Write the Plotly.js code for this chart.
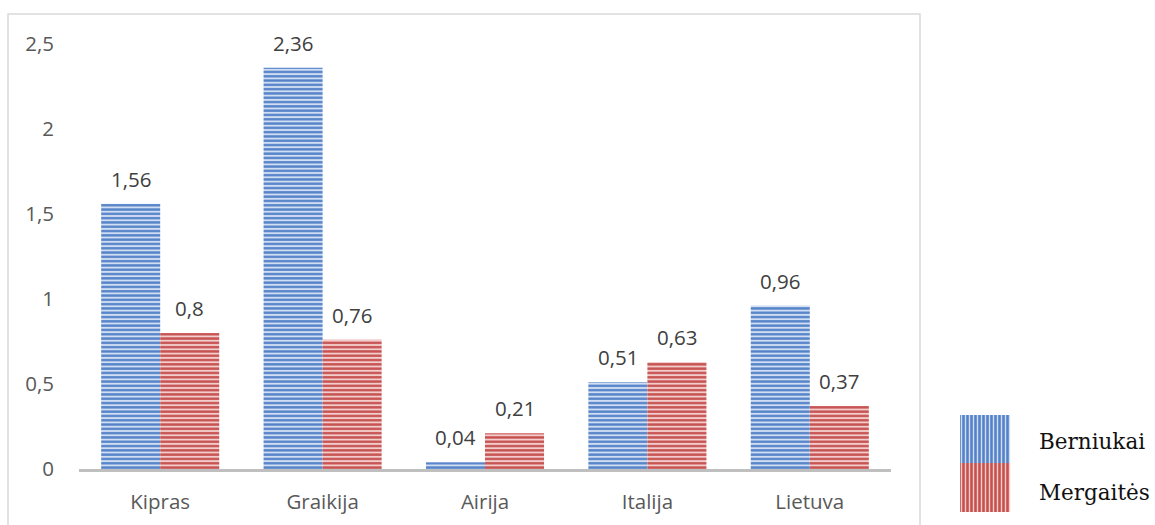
<!DOCTYPE html>
<html><head><meta charset="utf-8">
<script src="https://cdn.plot.ly/plotly-3.0.1.min.js"></script>
<style>html,body{margin:0;padding:0;background:#fff}</style>
</head><body>
<div id="chart" style="width:1155px;height:525px"></div>
<script>
const categories = ["Kipras", "Graikija", "Airija", "Italija", "Lietuva"];
const boys = [1.56, 2.36, 0.04, 0.51, 0.96];
const girls = [0.8, 0.76, 0.21, 0.63, 0.37];
const seriesNames = ["Berniukai", "Mergaitės"];

const W = 1155, H = 525;
const mL = 79, mR = 264, mT = 44, mB = 56;
const pw = W - mL - mR, ph = H - mT - mB;
const px = x => (x - mL) / pw;
const py = y => (H - mB - y) / ph;

const blueDark = '#5583c9', blueLight = '#d0def3';
const redDark = '#c65250', redLight = '#f3cccc';
const fmt = v => String(v).replace('.', ',');
const FONT = 'Open Sans, sans-serif';
const FS = 20.5;

const traces = [
  {type:'bar', name: seriesNames[0], x: categories, y: boys,
   marker:{color: blueDark, line:{width:0},
     pattern:{shape:'-', fgcolor: blueDark, bgcolor: blueLight, fgopacity:1, size:4.3, solidity:0.55}},
   hoverinfo:'none'},
  {type:'bar', name: seriesNames[1], x: categories, y: girls,
   marker:{color: redDark, line:{width:0},
     pattern:{shape:'-', fgcolor: redDark, bgcolor: redLight, fgopacity:1, size:4.3, solidity:0.55}},
   hoverinfo:'none'}
];

const annotations = [];
const barPx = pw / categories.length * (1 - 0.273) / 2;
[boys, girls].forEach((arr, s) => {
  arr.forEach((v, i) => {
    annotations.push({x: categories[i], y: v, xref:'x', yref:'y', text: fmt(v), showarrow:false,
      xshift: (s === 0 ? -1 : 1) * barPx / 2, yshift: 25, yanchor:'middle', xanchor:'center',
      font:{family: FONT, size: FS, color:'#404040'}});
  });
});

const shapes = [];
shapes.push({type:'rect', xref:'paper', yref:'paper', x0:px(8), x1:px(920), y0:py(540), y1:py(14),
  line:{color:'#d9d9d9', width:1.5}, fillcolor:'rgba(0,0,0,0)', layer:'below'});
const swatches = [[blueDark, blueLight, 415, 463], [redDark, redLight, 463, 512]];
swatches.forEach(([dk, lt, y0, y1]) => {
  shapes.push({type:'rect', xref:'paper', yref:'paper', x0:px(960), x1:px(1010), y0:py(y1), y1:py(y0),
    line:{width:0}, fillcolor: dk});
  for (let xx = 961.5; xx < 1010; xx += 4) {
    shapes.push({type:'line', xref:'paper', yref:'paper', x0:px(xx), x1:px(xx), y0:py(y1), y1:py(y0),
      line:{color: lt, width:1.4}});
  }
});
annotations.push({xref:'paper', yref:'paper', x:px(1037), y:py(441), text: seriesNames[0], showarrow:false,
  xanchor:'left', yanchor:'middle', font:{family:'DejaVu Serif, serif', size:21.5, color:'#111'}});
annotations.push({xref:'paper', yref:'paper', x:px(1037), y:py(493), text: seriesNames[1], showarrow:false,
  xanchor:'left', yanchor:'middle', font:{family:'DejaVu Serif, serif', size:21.5, color:'#111'}});

const layout = {
  width: W, height: H,
  margin:{l:mL, r:mR, t:mT, b:mB, pad:0},
  paper_bgcolor:'#fff', plot_bgcolor:'#fff',
  separators: ',.',
  barmode:'group', bargap:0.273, bargroupgap:0,
  showlegend:false,
  font:{family: FONT, size: FS, color:'#595959'},
  xaxis:{type:'category', showline:true, linecolor:'#bfbfbf', linewidth:3, ticks:'', showgrid:false,
    zeroline:false, ticklabelstandoff:12, tickfont:{size: FS, color:'#595959'}},
  yaxis:{range:[0, 2.5], tickvals:[0, 0.5, 1, 1.5, 2, 2.5], ticktext:['0','0,5','1','1,5','2','2,5'],
    showgrid:false, zeroline:false, showline:false, ticks:'', ticklabelstandoff:24,
    tickfont:{size: FS, color:'#595959'}},
  annotations: annotations,
  shapes: shapes
};

Plotly.newPlot('chart', traces, layout, {staticPlot:true, displayModeBar:false});
</script>
</body></html>
